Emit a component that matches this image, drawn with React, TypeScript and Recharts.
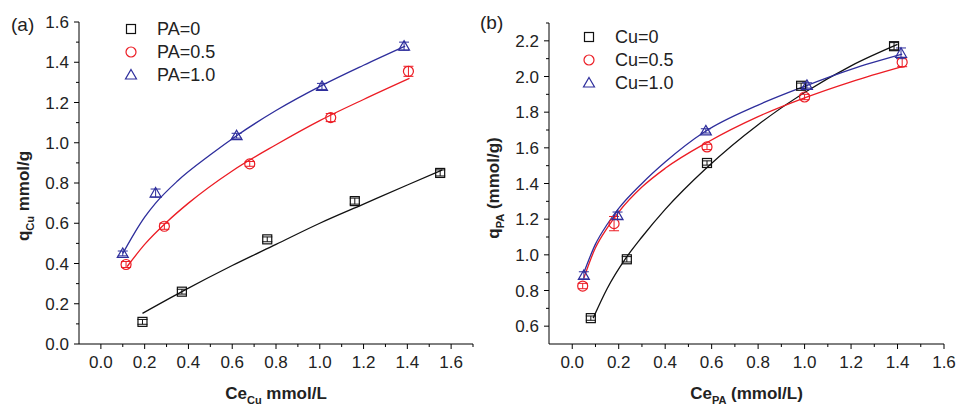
import React from 'react';
import { ComposedChart, Line, Scatter, XAxis, YAxis, ErrorBar, Legend } from 'recharts';

const FONT = '"Liberation Sans", Arial, sans-serif';
const RED = '#ec1c24';
const BLUE = '#2e2e9c';
const BLACK = '#111111';

// ---- panel (a): Cu uptake vs Ce(Cu) ----
const ceCuPA0 = [0.19, 0.37, 0.76, 1.16, 1.55];
const qCuPA0 = [0.11, 0.26, 0.52, 0.71, 0.85];
const errCuPA0 = [0.012, 0.012, 0.012, 0.015, 0.015];
const ceCuPA05 = [0.115, 0.29, 0.68, 1.05, 1.405];
const qCuPA05 = [0.395, 0.585, 0.895, 1.125, 1.355];
const errCuPA05 = [0.015, 0.015, 0.012, 0.02, 0.025];
const ceCuPA10 = [0.1, 0.25, 0.62, 1.01, 1.385];
const qCuPA10 = [0.45, 0.75, 1.035, 1.28, 1.48];
const errCuPA10 = [0.012, 0.02, 0.012, 0.015, 0.02];

const fitCuPA0X = [0.19, 0.37, 0.6, 0.8, 1.0, 1.2, 1.4, 1.56];
const fitCuPA0Y = [0.152, 0.26, 0.39, 0.495, 0.6, 0.695, 0.79, 0.865];
const fitCuPA05X = [0.12, 0.2, 0.3, 0.4, 0.6, 0.8, 1.0, 1.2, 1.41];
const fitCuPA05Y = [0.385, 0.495, 0.605, 0.7, 0.86, 0.99, 1.11, 1.215, 1.32];
const fitCuPA10X = [0.1, 0.15, 0.2, 0.25, 0.35, 0.5, 0.62, 0.8, 1.01, 1.2, 1.39];
const fitCuPA10Y = [0.45, 0.545, 0.63, 0.7, 0.81, 0.94, 1.035, 1.16, 1.285, 1.385, 1.48];

// ---- panel (b): PA uptake vs Ce(PA) ----
const cePACu0 = [0.08, 0.235, 0.58, 0.985, 1.385];
const qPACu0 = [0.645, 0.975, 1.515, 1.948, 2.17];
const errPACu0 = [0.012, 0.015, 0.012, 0.015, 0.02];
const cePACu05 = [0.045, 0.18, 0.58, 1.0, 1.42];
const qPACu05 = [0.825, 1.175, 1.605, 1.885, 2.08];
const errPACu05 = [0.015, 0.04, 0.015, 0.015, 0.025];
const cePACu10 = [0.05, 0.195, 0.575, 1.01, 1.415];
const qPACu10 = [0.885, 1.22, 1.695, 1.95, 2.13];
const errPACu10 = [0.02, 0.02, 0.012, 0.015, 0.03];

const fitPACu0X = [0.09, 0.15, 0.23, 0.3, 0.4, 0.58, 0.8, 1.0, 1.2, 1.4];
const fitPACu0Y = [0.645, 0.81, 0.98, 1.1, 1.255, 1.49, 1.73, 1.91, 2.06, 2.18];
const fitPACu05X = [0.05, 0.1, 0.15, 0.2, 0.3, 0.4, 0.58, 0.8, 1.0, 1.2, 1.42];
const fitPACu05Y = [0.87, 1.04, 1.15, 1.24, 1.38, 1.485, 1.63, 1.775, 1.88, 1.97, 2.055];
const fitPACu10X = [0.05, 0.1, 0.15, 0.2, 0.3, 0.4, 0.57, 0.8, 1.0, 1.2, 1.42];
const fitPACu10Y = [0.9, 1.06, 1.17, 1.26, 1.4, 1.52, 1.69, 1.84, 1.945, 2.04, 2.125];

// ticks (odd entries are minor ticks without labels)
const xTicksA = [0, 0.1, 0.2, 0.3, 0.4, 0.5, 0.6, 0.7, 0.8, 0.9, 1.0, 1.1, 1.2, 1.3, 1.4, 1.5, 1.6, 1.7];
const xMajorA = [0, 0.2, 0.4, 0.6, 0.8, 1.0, 1.2, 1.4, 1.6];
const yTicksA = [0, 0.1, 0.2, 0.3, 0.4, 0.5, 0.6, 0.7, 0.8, 0.9, 1.0, 1.1, 1.2, 1.3, 1.4, 1.5, 1.6];
const yMajorA = [0, 0.2, 0.4, 0.6, 0.8, 1.0, 1.2, 1.4, 1.6];
const xTicksB = [0, 0.1, 0.2, 0.3, 0.4, 0.5, 0.6, 0.7, 0.8, 0.9, 1.0, 1.1, 1.2, 1.3, 1.4, 1.5, 1.6];
const xMajorB = [0, 0.2, 0.4, 0.6, 0.8, 1.0, 1.2, 1.4, 1.6];
const yTicksB = [0.6, 0.7, 0.8, 0.9, 1.0, 1.1, 1.2, 1.3, 1.4, 1.5, 1.6, 1.7, 1.8, 1.9, 2.0, 2.1, 2.2, 2.3];
const yMajorB = [0.6, 0.8, 1.0, 1.2, 1.4, 1.6, 1.8, 2.0, 2.2];

const pts = (xs: number[], ys: number[], es: number[]) => xs.map((x, i) => ({ x, y: ys[i], err: es[i] }));
const fit = (xs: number[], ys: number[]) => xs.map((x, i) => ({ x, y: ys[i] }));

const isMajor = (list: number[], v: number) => list.some((m) => Math.abs(m - v) < 1e-6);

const makeXTick = (majors: number[]) => (props: any) => {
  const { x, y, payload } = props;
  const major = isMajor(majors, payload.value);
  return (
    <g>
      <line x1={x} x2={x} y1={y} y2={y + (major ? 5 : 3)} stroke="#000" strokeWidth={1} />
      {major && (
        <text x={x} y={y + 24} textAnchor="middle" fontSize={17} fontFamily={FONT} fill="#222">
          {payload.value.toFixed(1)}
        </text>
      )}
    </g>
  );
};

const makeYTick = (majors: number[]) => (props: any) => {
  const { x, y, payload } = props;
  const major = isMajor(majors, payload.value);
  return (
    <g>
      <line x1={x - (major ? 5 : 3)} x2={x} y1={y} y2={y} stroke="#000" strokeWidth={1} />
      {major && (
        <text x={x - 10} y={y + 6} textAnchor="end" fontSize={17} fontFamily={FONT} fill="#222">
          {payload.value.toFixed(1)}
        </text>
      )}
    </g>
  );
};

// hollow markers
const Square = ({ cx, cy, color }: any) => (
  <rect x={cx - 4.5} y={cy - 4.5} width={9} height={9} fill="none" stroke={color} strokeWidth={1.2} />
);
const Circle = ({ cx, cy, color }: any) => (
  <circle cx={cx} cy={cy} r={5} fill="none" stroke={color} strokeWidth={1.2} />
);
const Triangle = ({ cx, cy, color }: any) => (
  <polygon
    points={`${cx},${cy - 5.5} ${cx + 5.5},${cy + 4} ${cx - 5.5},${cy + 4}`}
    fill="none"
    stroke={color}
    strokeWidth={1.2}
  />
);
const SHAPES = [Square, Circle, Triangle];

// only the scatter series go in the legend; the fitted lines are hidden
const LegendBox = ({ payload }: any) => (
  <div style={{ fontFamily: FONT, fontSize: 18, color: '#222' }}>
    {(payload || [])
      .filter((p: any) => p.type !== 'none')
      .map((p: any, i: number) => {
        const Shape = SHAPES[i % 3];
        return (
          <div key={i} style={{ display: 'flex', alignItems: 'center', height: 23 }}>
            <svg width={14} height={14} style={{ display: 'block' }}>
              <Shape cx={7} cy={7} color={p.color} />
            </svg>
            <span style={{ marginLeft: 19, lineHeight: '23px' }}>{p.value}</span>
          </div>
        );
      })}
  </div>
);

const XTitle = (main: string, sub: string, rest: string, dyBase: number) => (props: any) => {
  const vb = props.viewBox || { x: 0, y: 0, width: 0 };
  return (
    <text
      x={vb.x + vb.width / 2}
      y={vb.y + dyBase}
      textAnchor="middle"
      fontFamily={FONT}
      fontWeight="bold"
      fontSize={17}
      fill="#222"
    >
      <tspan>{main}</tspan>
      <tspan fontSize={11} dy={5}>{sub}</tspan>
      <tspan dy={-5}>{rest}</tspan>
    </text>
  );
};

const YTitle = (main: string, sub: string, rest: string, cx: number, cy: number) => () => (
  <text
    x={cx}
    y={cy}
    transform={`rotate(-90, ${cx}, ${cy})`}
    textAnchor="middle"
    fontFamily={FONT}
    fontWeight="bold"
    fontSize={17}
    fill="#222"
  >
    <tspan>{main}</tspan>
    <tspan fontSize={11} dy={5}>{sub}</tspan>
    <tspan dy={-5}>{rest}</tspan>
  </text>
);

const panelLabel: React.CSSProperties = {
  position: 'absolute',
  fontFamily: FONT,
  fontSize: 19,
  color: '#222',
  lineHeight: 1,
};

const App = () => {
  return (
    <div style={{ position: 'absolute', left: 0, top: 0, width: 957, height: 405, background: '#fff' }}>
      {/* Panel (a) */}
      <div style={{ position: 'absolute', left: 0, top: 0 }}>
        <ComposedChart width={478} height={405} margin={{ top: 22, right: 5, bottom: 0, left: 0 }}>
          <XAxis
            type="number"
            dataKey="x"
            domain={[-0.1, 1.7]}
            ticks={xTicksA}
            interval={0}
            height={61}
            tickSize={0}
            tickMargin={0}
            tickLine={false}
            tick={makeXTick(xMajorA)}
            axisLine={{ stroke: '#000' }}
            label={XTitle('Ce', 'Cu', ' mmol/L', 55)}
          />
          <YAxis
            type="number"
            dataKey="y"
            domain={[0, 1.6]}
            ticks={yTicksA}
            interval={0}
            width={79}
            tickSize={0}
            tickMargin={0}
            tickLine={false}
            tick={makeYTick(yMajorA)}
            axisLine={{ stroke: '#000' }}
            label={YTitle('q', 'Cu', ' mmol/g', 29, 196)}
          />
          <Line data={fit(fitCuPA0X, fitCuPA0Y)} dataKey="y" type="monotone" stroke={BLACK} strokeWidth={1.3} dot={false} legendType="none" isAnimationActive={false} />
          <Line data={fit(fitCuPA05X, fitCuPA05Y)} dataKey="y" type="monotone" stroke={RED} strokeWidth={1.3} dot={false} legendType="none" isAnimationActive={false} />
          <Line data={fit(fitCuPA10X, fitCuPA10Y)} dataKey="y" type="monotone" stroke={BLUE} strokeWidth={1.3} dot={false} legendType="none" isAnimationActive={false} />
          <Scatter name="PA=0" data={pts(ceCuPA0, qCuPA0, errCuPA0)} fill={BLACK} shape={(p: any) => <Square {...p} color={BLACK} />} isAnimationActive={false}>
            <ErrorBar dataKey="err" direction="y" width={5} stroke={BLACK} strokeWidth={1} />
          </Scatter>
          <Scatter name="PA=0.5" data={pts(ceCuPA05, qCuPA05, errCuPA05)} fill={RED} shape={(p: any) => <Circle {...p} color={RED} />} isAnimationActive={false}>
            <ErrorBar dataKey="err" direction="y" width={5} stroke={RED} strokeWidth={1} />
          </Scatter>
          <Scatter name="PA=1.0" data={pts(ceCuPA10, qCuPA10, errCuPA10)} fill={BLUE} shape={(p: any) => <Triangle {...p} color={BLUE} />} isAnimationActive={false}>
            <ErrorBar dataKey="err" direction="y" width={5} stroke={BLUE} strokeWidth={1} />
          </Scatter>
          <Legend
            layout="vertical"
            align="center"
            verticalAlign="middle"
            content={<LegendBox />}
            wrapperStyle={{ position: 'absolute', left: 124, top: 17.5, width: 'auto', height: 'auto' }}
          />
        </ComposedChart>
      </div>

      {/* Panel (b) */}
      <div style={{ position: 'absolute', left: 478, top: 0 }}>
        <ComposedChart width={479} height={405} margin={{ top: 23, right: 13, bottom: 0, left: 0 }}>
          <XAxis
            type="number"
            dataKey="x"
            domain={[-0.1, 1.6]}
            ticks={xTicksB}
            interval={0}
            height={61}
            tickSize={0}
            tickMargin={0}
            tickLine={false}
            tick={makeXTick(xMajorB)}
            axisLine={{ stroke: '#000' }}
            label={XTitle('Ce', 'PA', ' (mmol/L)', 55)}
          />
          <YAxis
            type="number"
            dataKey="y"
            domain={[0.5, 2.3]}
            ticks={yTicksB}
            interval={0}
            width={71}
            tickSize={0}
            tickMargin={0}
            tickLine={false}
            tick={makeYTick(yMajorB)}
            axisLine={{ stroke: '#000' }}
            label={YTitle('q', 'PA', ' (mmol/g)', 21, 188)}
          />
          <Line data={fit(fitPACu0X, fitPACu0Y)} dataKey="y" type="monotone" stroke={BLACK} strokeWidth={1.3} dot={false} legendType="none" isAnimationActive={false} />
          <Line data={fit(fitPACu05X, fitPACu05Y)} dataKey="y" type="monotone" stroke={RED} strokeWidth={1.3} dot={false} legendType="none" isAnimationActive={false} />
          <Line data={fit(fitPACu10X, fitPACu10Y)} dataKey="y" type="monotone" stroke={BLUE} strokeWidth={1.3} dot={false} legendType="none" isAnimationActive={false} />
          <Scatter name="Cu=0" data={pts(cePACu0, qPACu0, errPACu0)} fill={BLACK} shape={(p: any) => <Square {...p} color={BLACK} />} isAnimationActive={false}>
            <ErrorBar dataKey="err" direction="y" width={5} stroke={BLACK} strokeWidth={1} />
          </Scatter>
          <Scatter name="Cu=0.5" data={pts(cePACu05, qPACu05, errPACu05)} fill={RED} shape={(p: any) => <Circle {...p} color={RED} />} isAnimationActive={false}>
            <ErrorBar dataKey="err" direction="y" width={5} stroke={RED} strokeWidth={1} />
          </Scatter>
          <Scatter name="Cu=1.0" data={pts(cePACu10, qPACu10, errPACu10)} fill={BLUE} shape={(p: any) => <Triangle {...p} color={BLUE} />} isAnimationActive={false}>
            <ErrorBar dataKey="err" direction="y" width={5} stroke={BLUE} strokeWidth={1} />
          </Scatter>
          <Legend
            layout="vertical"
            align="center"
            verticalAlign="middle"
            content={<LegendBox />}
            wrapperStyle={{ position: 'absolute', left: 104, top: 25.5, width: 'auto', height: 'auto' }}
          />
        </ComposedChart>
      </div>

      <div style={{ ...panelLabel, left: 11, top: 15 }}>(a)</div>
      <div style={{ ...panelLabel, left: 480, top: 13 }}>(b)</div>
    </div>
  );
};

export default App;
